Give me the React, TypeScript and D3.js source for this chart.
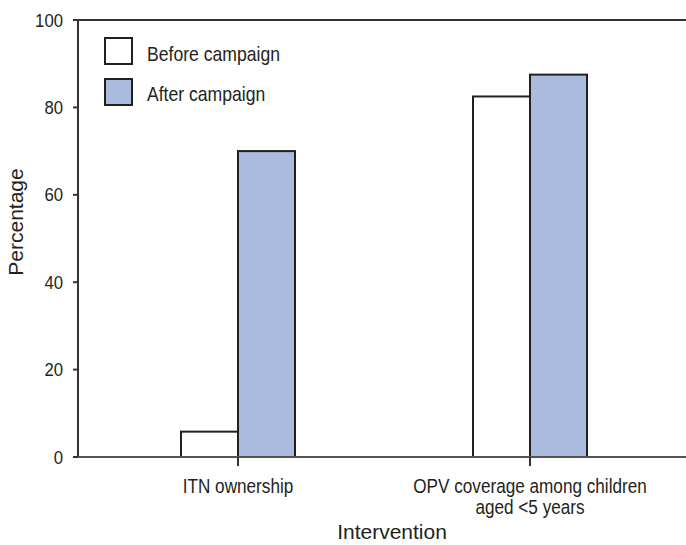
import React from "react";
import * as d3 from "d3";

// data
const categories = ["ITN ownership", "OPV coverage among children\naged <5 years"];
const seriesNames = ["Before campaign", "After campaign"];
const beforeValues = [5.8, 82.5];
const afterValues = [70, 87.5];
const yTicks = [0, 20, 40, 60, 80, 100];

const W = 686;
const H = 545;
const FONT = "'Liberation Sans', Arial, Helvetica, sans-serif";
const INK = "#231f20";
const BLUE = "#aabbdd";

const plot = { left: 78, right: 686, top: 20, bottom: 457 };

// condensed-looking text, like the original artwork
const Squeezed = ({ x, y, sx = 0.88, anchor = "middle", size, children }: any) => (
  <text
    transform={`translate(${x},${y}) scale(${sx},1)`}
    textAnchor={anchor}
    fontSize={size}
    fontFamily={FONT}
    fill={INK}
  >
    {children}
  </text>
);

export default function App() {
  const y = d3.scaleLinear().domain([0, 100]).range([plot.bottom, plot.top]);

  const x = d3.scaleBand<string>().domain(categories).range([92, 676]).padding(0);
  const barW = 57;
  const inner = d3
    .scaleBand<string>()
    .domain(seriesNames)
    .range([x.bandwidth() / 2 - barW, x.bandwidth() / 2 + barW]);

  const series = [
    { name: seriesNames[0], values: beforeValues, fill: "#ffffff" },
    { name: seriesNames[1], values: afterValues, fill: BLUE },
  ];

  return (
    <svg
      width={W}
      height={H}
      style={{ position: "absolute", left: 0, top: 0, background: "#fff" }}
    >
      {/* bars */}
      {series.map((s) =>
        s.values.map((v, i) => (
          <rect
            key={s.name + i}
            x={(x(categories[i]) ?? 0) + (inner(s.name) ?? 0)}
            y={y(v)}
            width={inner.bandwidth()}
            height={y(0) - y(v)}
            fill={s.fill}
            stroke={INK}
            strokeWidth={2}
          />
        ))
      )}

      {/* axes frame */}
      <line x1={plot.left} x2={plot.left} y1={plot.top} y2={plot.bottom} stroke="#333" strokeWidth={2} />
      <line x1={73} x2={plot.right} y1={plot.top} y2={plot.top} stroke="#333" strokeWidth={2} />
      <line x1={73} x2={plot.right} y1={plot.bottom} y2={plot.bottom} stroke="#555" strokeWidth={2} />

      {/* y ticks */}
      {yTicks.map((t) => (
        <g key={t}>
          <line x1={73} x2={plot.left} y1={y(t)} y2={y(t)} stroke="#333" strokeWidth={2} />
          <Squeezed x={63} y={y(t) + 6.5} anchor="end" size={18} sx={0.93}>
            {t}
          </Squeezed>
        </g>
      ))}

      {/* x ticks and labels */}
      {categories.map((c) => {
        const cx = (x(c) ?? 0) + x.bandwidth() / 2;
        const lines = c.split("\n");
        return (
          <g key={c}>
            <line x1={cx} x2={cx} y1={plot.bottom} y2={plot.bottom + 9} stroke="#333" strokeWidth={2} />
            {lines.map((ln, k) => (
              <Squeezed key={k} x={cx} y={493 + k * 21} size={19.5} sx={0.88}>
                {ln}
              </Squeezed>
            ))}
          </g>
        );
      })}

      {/* axis titles */}
      <text x={392} y={539} textAnchor="middle" fontSize={21} fontFamily={FONT} fill={INK}>
        Intervention
      </text>
      <text
        transform={`translate(23,222) rotate(-90)`}
        textAnchor="middle"
        fontSize={21}
        fontFamily={FONT}
        fill={INK}
      >
        Percentage
      </text>

      {/* legend */}
      {series.map((s, i) => (
        <g key={s.name}>
          <rect x={105} y={38 + i * 41} width={27} height={26} fill={s.fill} stroke={INK} strokeWidth={2} />
          <Squeezed x={147} y={61 + i * 40} anchor="start" size={20} sx={0.88}>
            {s.name}
          </Squeezed>
        </g>
      ))}
    </svg>
  );
}
